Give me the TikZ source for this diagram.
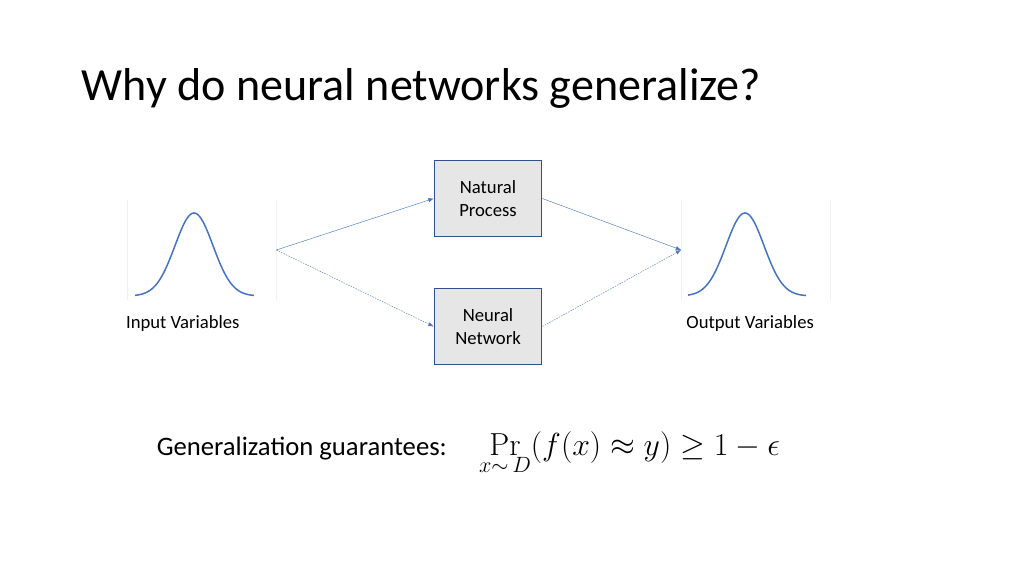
\documentclass[tikz,border=0pt]{standalone}
\usepackage[no-math]{fontspec}
\setmainfont{Carlito}
\usepackage{graphicx}
\usepackage{tikz}
\usetikzlibrary{arrows.meta,positioning}
\usepackage{xcolor}
\definecolor{accent}{HTML}{4472C4}
\definecolor{boxline}{HTML}{2F528F}
\definecolor{boxfill}{HTML}{E7E6E6}

\begin{document}
\begin{tikzpicture}[x=0.9375pt,y=-0.9375pt]
      \tikzstyle{block} = [rectangle, draw=boxline, fill=boxfill, line width=0.8pt, minimum width=101pt, minimum height=72pt, align=center, font=\fontsize{17.5}{21.5}\selectfont]
      \tikzstyle{plotframe} = [rectangle, minimum width=139pt, minimum height=94pt, inner sep=0pt]
      \tikzstyle{caption} = [font=\fontsize{17.5}{21}\selectfont]
      \tikzstyle{flow} = [accent, line width=0.4pt, -{Latex[length=5pt,width=4pt]}]
      \tikzstyle{guess} = [accent!70!gray, line width=0.4pt, dash pattern=on 1.5pt off 1pt, -{Latex[length=5pt,width=4pt]}]

      \useasboundingbox (0,0) rectangle (1024,576);

      \node[anchor=base west, font=\fontsize{43.2}{50}\selectfont] (title) at (78,101) {Why do neural networks generalize?};

      \node[block] (nat) at (488,198.5) {Natural\\Process};
      \node[block] (net) at (488,326.5) {Neural\\Network};

      \node[plotframe] (inp) at (202,250) {};
      \node[plotframe] (outp) at (755.5,250) {};
      \draw[gray!12] (inp.north west) -- (inp.south west) (inp.north east) -- (inp.south east);
      \draw[gray!12] (outp.north west) -- (outp.south west) (outp.north east) -- (outp.south east);
      \draw[accent, line width=1.4pt, domain=-59:60, samples=80, smooth] plot ({194+\x},{296-83*exp(-(\x*\x)/(2*19*19))});
      \draw[accent, line width=1.4pt, domain=-57:61, samples=80, smooth] plot ({745+\x},{296-83*exp(-(\x*\x)/(2*19*19))});

      \node[caption, below=11pt of inp.south, xshift=-18pt] (inlab) {Input Variables};
      \node[caption, below=11pt of outp.south, xshift=-5pt] (outlab) {Output Variables};

      \draw[flow] (inp.east) -- (nat.west);
      \draw[guess] (inp.east) -- (net.west);
      \draw[flow] (nat.east) -- (outp.west);
      \draw[guess] (net.east) -- (outp.west);

      \node[anchor=base west, font=\fontsize{25}{30}\selectfont] (gen) at (153,455)
        {Generalization guarantees:\ \ \hspace{19pt}\scalebox{1.2}{$\displaystyle\mathop{\mathrm{Pr}}\limits_{x{\sim}\,D}\bigl(f(x)\approx y\bigr)\geq 1-\epsilon$}};
    \end{tikzpicture}
\end{document}
